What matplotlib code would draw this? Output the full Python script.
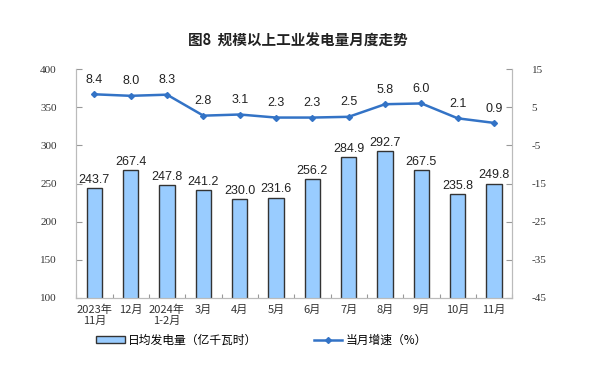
import matplotlib.pyplot as plt
import numpy as np

plt.rcParams['font.family'] = ['Liberation Sans', 'Noto Sans CJK SC']
plt.rcParams['axes.unicode_minus'] = False

# data
months = ["2023年\n11月", "12月", "2024年\n1-2月", "3月", "4月", "5月",
          "6月", "7月", "8月", "9月", "10月", "11月"]
daily_output = [243.7, 267.4, 247.8, 241.2, 230.0, 231.6,
                256.2, 284.9, 292.7, 267.5, 235.8, 249.8]
growth = [8.4, 8.0, 8.3, 2.8, 3.1, 2.3, 2.3, 2.5, 5.8, 6.0, 2.1, 0.9]

fig = plt.figure(figsize=(5.95, 3.84), dpi=100)
ax = fig.add_axes([0.128, 0.224, 0.733, 0.596])
ax2 = ax.twinx()

x = np.arange(len(months))
bars = ax.bar(x, daily_output, width=0.42, color='#99CCFF', edgecolor='#333333',
              linewidth=1.0, label='日均发电量（亿千瓦时）', zorder=2)
line, = ax2.plot(x, growth, color='#3373C6', linewidth=1.8, marker='D',
                 markersize=3, label='当月增速（%）', zorder=3)

for xi, v in zip(x, daily_output):
    ax.text(xi, v + 3, f"{v:.1f}", ha='center', va='bottom', fontsize=9,
            color='#222222')
for xi, v in zip(x, growth):
    ax2.text(xi, v + 2.2, f"{v:.1f}", ha='center', va='bottom', fontsize=9,
             color='#222222')

ax.set_xlim(-0.5, len(months) - 0.5)
ax.set_ylim(100, 400)
ax.set_yticks(range(100, 401, 50))
ax2.set_ylim(-45, 15)
ax2.set_yticks(range(-45, 16, 10))

# ticks between categories on x
ax.set_xticks(np.arange(-0.5, len(months), 1))
ax.set_xticklabels([])
ax.set_xticks(x, minor=True)
ax.set_xticklabels(months, minor=True, fontsize=8, family=['Noto Sans CJK SC'],
                   color='#333333', linespacing=1.1)
ax.tick_params(axis='x', which='minor', length=0, pad=5)
ax.tick_params(axis='x', which='major', direction='in', length=3, color='#999999')

for a in (ax, ax2):
    a.tick_params(axis='y', direction='in', length=4, color='#999999',
                  labelsize=8, labelcolor='#333333', pad=14,
                  labelfontfamily='Liberation Serif')
    for s in a.spines.values():
        s.set_color('#BBBBBB')
    a.spines['top'].set_visible(False)

fig.text(0.5, 0.895, "图8  规模以上工业发电量月度走势", ha='center', va='center',
         fontsize=10.5, fontweight='bold', family=['Noto Sans CJK SC'],
         color='#222222')

fig.legend([bars, line], ['日均发电量（亿千瓦时）', '当月增速（%）'],
           loc='center', bbox_to_anchor=(0.44, 0.115), ncol=2, frameon=False,
           prop={'family': ['Noto Sans CJK SC'], 'size': 8.5},
           handlelength=2.4, handleheight=0.5, columnspacing=4.8,
           handletextpad=0.3)

fig.savefig('out.png', dpi=100)
